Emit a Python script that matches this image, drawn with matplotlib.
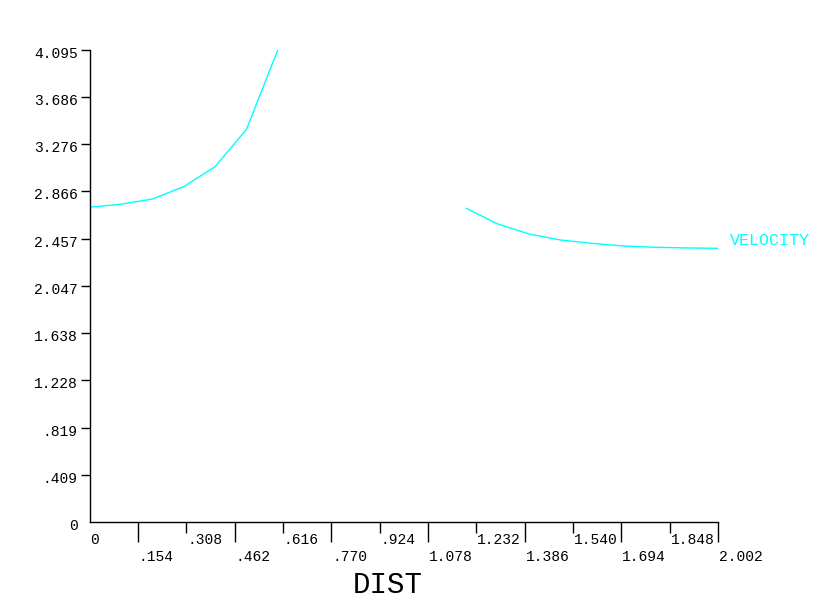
import matplotlib
matplotlib.use('Agg')
import matplotlib.pyplot as plt
import matplotlib.transforms as mtransforms

# axis ticks as printed on the plot
x_ticks = [0, .154, .308, .462, .616, .770, .924, 1.078, 1.232, 1.386, 1.540, 1.694, 1.848, 2.002]
x_tick_labels = ['0', '.154', '.308', '.462', '.616', '.770', '.924', '1.078',
                 '1.232', '1.386', '1.540', '1.694', '1.848', '2.002']
y_ticks = [0, .409, .819, 1.228, 1.638, 2.047, 2.457, 2.866, 3.276, 3.686, 4.095]
y_tick_labels = ['0', '.409', '.819', '1.228', '1.638', '2.047', '2.457',
                 '2.866', '3.276', '3.686', '4.095']

# velocity curve, two pieces (gap in the middle)
dist_left = [0.0, 0.1, 0.2, 0.3, 0.4, 0.5, 0.6]
vel_left = [2.729, 2.755, 2.800, 2.907, 3.081, 3.404, 4.095]
dist_right = [1.2, 1.3, 1.4, 1.5, 1.6, 1.7, 1.8, 1.9, 2.0]
vel_right = [2.720, 2.584, 2.497, 2.445, 2.416, 2.393, 2.382, 2.376, 2.373]

LINE = '#00ffff'
FONT = 'Liberation Mono'


def draw_plot():
    fig = plt.figure(figsize=(8.28, 6.12), dpi=100)
    ax = fig.add_axes([0.1081, 0.1471, 0.7591, 0.7717])

    ax.plot(dist_left, vel_left, color=LINE, lw=1)
    ax.plot(dist_right, vel_right, color=LINE, lw=1)

    ax.set_xlim(0, 2.002)
    ax.set_ylim(0, 4.095)

    for side in ['top', 'right']:
        ax.spines[side].set_visible(False)
    for side in ['left', 'bottom']:
        ax.spines[side].set_linewidth(1)
        ax.spines[side].set_color('black')

    # y ticks: short outward marks, no mark at zero
    ax.set_yticks(y_ticks[1:])
    ax.set_yticklabels([])
    ax.tick_params(axis='y', length=6.5, width=1, direction='out')

    # x ticks alternate short / long
    ax.set_xticks(x_ticks[2::2])
    ax.set_xticks(x_ticks[1::2], minor=True)
    ax.set_xticklabels([])
    ax.set_xticklabels([], minor=True)
    ax.tick_params(axis='x', which='major', length=7.9, width=1, direction='out')
    ax.tick_params(axis='x', which='minor', length=14.4, width=1, direction='out')

    # tick labels drawn by hand so they can sit in two rows
    xtrans = mtransforms.blended_transform_factory(ax.transData, ax.transAxes)
    for i, (v, lab) in enumerate(zip(x_ticks, x_tick_labels)):
        dy = -0.18 if i % 2 == 0 else -0.35
        tr = xtrans + mtransforms.ScaledTranslation(0.01, dy, fig.dpi_scale_trans)
        ax.text(v, 0, lab, transform=tr, ha='left', va='center',
                fontsize=10.5, family=FONT, color='black')

    ytrans = mtransforms.blended_transform_factory(ax.transAxes, ax.transData)
    for v, lab in zip(y_ticks, y_tick_labels):
        tr = ytrans + mtransforms.ScaledTranslation(-0.12, -0.04, fig.dpi_scale_trans)
        ax.text(0, v, lab, transform=tr, ha='right', va='center',
                fontsize=10.5, family=FONT, color='black')

    ax.annotate('VELOCITY', xy=(dist_right[-1], vel_right[-1]),
                xytext=(13, 8), textcoords='offset pixels',
                ha='left', va='center', fontsize=12, family=FONT, color=LINE,
                annotation_clip=False)

    fig.text(388 / 828, 27 / 612, 'DIST', ha='center', va='center',
             fontsize=21, family=FONT, color='black')

    fig.savefig('out.png', dpi=100)


if __name__ == '__main__':
    draw_plot()
